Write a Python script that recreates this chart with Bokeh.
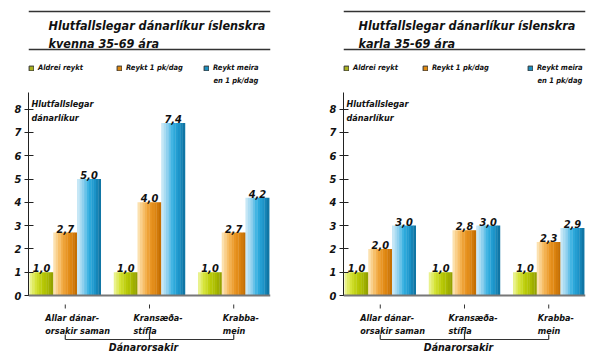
from bokeh.plotting import figure
from bokeh.models import (FactorRange, Range1d, ColumnDataSource, Span, Label,
                          Legend, LegendItem, FixedTicker)
from bokeh.transform import dodge
from bokeh.core.properties import value
from bokeh.layouts import row
from bokeh.embed import file_html
from bokeh.resources import INLINE

# ---------------- data ----------------
causes = ["Allar dánarorsakir saman", "Kransæðastífla", "Krabbamein"]
cause_labels = ["Allar dánar-\norsakir saman", "Kransæða-\nstífla", "Krabba-\nmein"]
series = ["Aldrei reykt", "Reykt 1 pk/dag", "Reykt meira en 1 pk/dag"]
legend_labels = ["Aldrei reykt", "Reykt 1 pk/dag", "Reykt meira"]
legend_extra = "en 1 pk/dag"

women_never = [1.0, 1.0, 1.0]
women_one_pack = [2.7, 4.0, 2.7]
women_more = [5.0, 7.4, 4.2]

men_never = [1.0, 1.0, 1.0]
men_one_pack = [2.0, 2.8, 2.3]
men_more = [3.0, 3.0, 2.9]

title_line1 = "Hlutfallslegar dánarlíkur íslenskra"
women_title2 = "kvenna 35-69 ára"
men_title2 = "karla 35-69 ára"
y_axis_title = ["Hlutfallslegar", "dánarlíkur"]
x_axis_title = "Dánarorsakir"
y_ticks = [0, 1, 2, 3, 4, 5, 6, 7, 8]

# ---------------- style ----------------
FONT = "DejaVu Sans Condensed"
W, H = 300, 353
FRAME_W = 242
ZERO_PY = 295
UNIT = 23.3

gradients = [
    ["#eef6a0", "#d6e43a", "#bccd0a", "#a9ba00", "#8f9d00"],
    ["#fde9c0", "#f7c06a", "#ec9a2a", "#dd8510", "#bf6a00"],
    ["#d4edf8", "#8fd0ee", "#30aee0", "#1c94c9", "#0d6f9c"],
]
legend_colors = ["#aab21e", "#e08a10", "#1a8fc0"]
NSTRIP = 10


def hex2rgb(h):
    h = h.lstrip("#")
    return tuple(int(h[i:i + 2], 16) for i in (0, 2, 4))


def interp(stops, t):
    n = len(stops) - 1
    pos = t * n
    i = min(int(pos), n - 1)
    f = pos - i
    a, b = hex2rgb(stops[i]), hex2rgb(stops[i + 1])
    c = [round(a[k] + (b[k] - a[k]) * f) for k in range(3)]
    return "#%02x%02x%02x" % tuple(c)


def ypx(py):
    return (ZERO_PY - py) / UNIT


def fmt(v):
    return f"{v:.1f}".replace(".", ",")


def make_chart(title2, values, left, legend_x, title_x):
    factors = [(c, s) for c in causes for s in series]
    p = figure(width=W, height=H,
               x_range=FactorRange(factors=factors, group_padding=0.55, factor_padding=0,
                                   range_padding=0.05, range_padding_units="absolute"),
               y_range=Range1d(ypx(H), ypx(0)),
               output_backend="svg", toolbar_location=None, x_axis_location=None,
               min_border_left=left, min_border_right=W - left - FRAME_W,
               min_border_top=0, min_border_bottom=0, outline_line_color=None)
    p.grid.visible = False
    p.background_fill_color = "white"

    ax = p.yaxis[0]
    ax.ticker = FixedTicker(ticks=y_ticks)
    ax.bounds = (0, 8.7)
    ax.axis_line_color = "#222222"
    ax.major_tick_line_color = "#222222"
    ax.major_tick_in = 5
    ax.major_tick_out = 4
    ax.minor_tick_line_color = None
    ax.major_label_standoff = 3
    ax.major_label_text_font = FONT
    ax.major_label_text_font_style = "bold italic"
    ax.major_label_text_font_size = "11px"
    ax.major_label_text_color = "#111111"

    # baseline
    p.add_layout(Span(location=0, dimension="width", line_color="#777777", line_width=2))

    # bars as gradient strips
    for j, s in enumerate(series):
        src = ColumnDataSource(dict(x=[(c, s) for c in causes], top=values[j],
                                    lab=[fmt(v) for v in values[j]]))
        for k in range(NSTRIP):
            off = -0.5 + (k + 0.5) / NSTRIP
            col = interp(gradients[j], (k + 0.5) / NSTRIP)
            p.vbar(x=dodge("x", off, range=p.x_range), top="top", bottom=0,
                   width=1.0 / NSTRIP + 0.012, source=src, fill_color=col, line_color=None)
        p.text(x="x", y="top", text="lab", source=src, y_offset=-4,
               text_align="center", text_baseline="alphabetic",
               text_font=value(FONT), text_font_style="bold italic",
               text_font_size="11px", text_color="#111111")

        # legend (swatch renderer placed far outside the visible range)
        r = p.rect(x=[(causes[0], s)], y=[-100], width=1, height=1,
                   fill_color=legend_colors[j], line_color="#333333", line_width=1)
        leg = Legend(items=[LegendItem(label=legend_labels[j], renderers=[r])],
                     location=(legend_x[j] - left, H - 72),
                     orientation="horizontal", glyph_width=6, glyph_height=6,
                     label_standoff=4,
                     padding=0, margin=0, spacing=0,
                     border_line_color=None, background_fill_alpha=0,
                     label_text_font=FONT, label_text_font_style="bold italic",
                     label_text_font_size="7.5px", label_height=8,
                     label_text_color="#111111")
        p.add_layout(leg)

    p.add_layout(Label(x=legend_x[2] - left + 10, y=H - 80, x_units="screen", y_units="screen",
                       text=legend_extra, text_font=FONT, text_font_style="bold italic",
                       text_font_size="7.5px", text_baseline="middle", text_color="#111111"))

    # title
    for py in (11, 49):
        p.add_layout(Span(location=ypx(py), dimension="width", line_color="#333333",
                          line_width=1.5))
    for txt, py in ((title_line1, 25), (title2, 43)):
        p.add_layout(Label(x=title_x - left, y=H - py, x_units="screen", y_units="screen",
                           text=txt, text_font=FONT, text_font_style="bold italic",
                           text_font_size="12.5px", text_baseline="alphabetic",
                           text_color="#111111"))

    # y axis title
    for txt, py in zip(y_axis_title, (103, 117)):
        p.add_layout(Label(x=3, y=H - py, x_units="screen", y_units="screen", text=txt,
                           text_font=FONT, text_font_style="bold italic",
                           text_font_size="9px", text_baseline="alphabetic",
                           text_color="#111111"))

    # category ticks, labels, bracket
    csrc = ColumnDataSource(dict(x=causes, lab=cause_labels, xo=[-20, -16, -11]))
    p.segment(x0="x", x1="x", y0=ypx(304), y1=ypx(308), source=csrc,
              line_color="#333333", line_width=1)
    p.text(x="x", y=ypx(312), text="lab", x_offset="xo", source=csrc,
           text_align="left", text_baseline="top", text_line_height=1.3,
           text_font=value(FONT), text_font_style="bold italic",
           text_font_size="9px", text_color="#111111")
    p.segment(x0=[causes[0]], x1=[causes[2]], y0=[ypx(339)], y1=[ypx(339)],
              line_color="#333333", line_width=1.2)
    p.segment(x0=[causes[0], causes[2], causes[1]], x1=[causes[0], causes[2], causes[1]],
              y0=[ypx(334), ypx(334), ypx(331)], y1=[ypx(339)] * 3,
              line_color="#333333", line_width=1.2)
    p.text(x=[causes[1]], y=[ypx(346)], text=[x_axis_title], x_offset=-6,
           text_align="center", text_baseline="middle",
           text_font=value(FONT), text_font_style="bold italic",
           text_font_size="10.5px", text_color="#111111")
    return p


p1 = make_chart(women_title2, [women_never, women_one_pack, women_more], 28,
                [28, 116, 203], 48)
p2 = make_chart(men_title2, [men_never, men_one_pack, men_more], 43,
                [343 - 300, 422 - 300, 527 - 300], 358 - 300)
layout = row(p1, p2)
open("out.html", "w").write(file_html(layout, INLINE))
